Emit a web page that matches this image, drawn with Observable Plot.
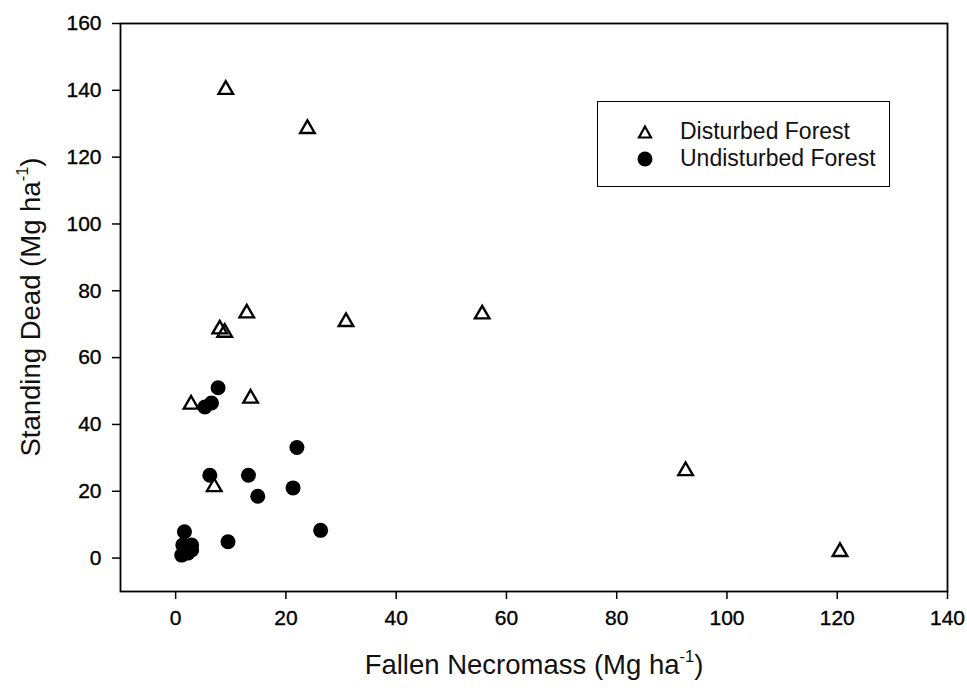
<!DOCTYPE html>
<html>
<head>
<meta charset="utf-8">
<script src="https://cdn.jsdelivr.net/npm/d3@7"></script>
<script src="https://cdn.jsdelivr.net/npm/@observablehq/plot@0.6"></script>
<style>
  html, body { margin: 0; padding: 0; background: #fff; }
  #wrap { position: relative; width: 967px; height: 691px; font-family: "Liberation Sans", Arial, sans-serif; }
  #legend { position: absolute; left: 597px; top: 101px; width: 293px; height: 86px; border: 1.5px solid #000; box-sizing: border-box; background: #fff; font-size: 23px; color: #111; }
  #legend .row { position: absolute; left: 39px; display: flex; align-items: center; }
  #legend .row span { margin-left: 27px; }
</style>
</head>
<body>
<div id="wrap"></div>
<script>
// Disturbed Forest (triangles)
const disturbedX = [9.1, 23.9, 12.9, 8.0, 8.9, 30.9, 55.6, 2.8, 13.6, 7.0, 92.5, 120.5];
const disturbedY = [140.2, 128.5, 73.3, 68.5, 67.5, 70.7, 73.0, 46.0, 47.8, 21.3, 26.1, 1.9];
// Undisturbed Forest (filled circles)
const undisturbedX = [7.7, 6.5, 5.3, 22.0, 6.2, 13.2, 14.9, 21.3, 26.3, 9.5, 1.6, 1.1, 2.9, 1.3, 2.9, 2.2];
const undisturbedY = [51.0, 46.4, 45.2, 33.1, 24.8, 24.8, 18.5, 21.0, 8.3, 4.9, 7.9, 0.9, 2.4, 3.9, 3.9, 1.5];
const xTicks = [0, 20, 40, 60, 80, 100, 120, 140];
const yTicks = [0, 20, 40, 60, 80, 100, 120, 140, 160];
const seriesNames = ["Disturbed Forest", "Undisturbed Forest"];

const disturbed = disturbedX.map((x, i) => ({x, y: disturbedY[i]}));
const undisturbed = undisturbedX.map((x, i) => ({x, y: undisturbedY[i]}));

const chart = Plot.plot({
  width: 967,
  height: 691,
  marginLeft: 120,
  marginRight: 20,
  marginTop: 23,
  marginBottom: 100,
  style: {fontFamily: "'Liberation Sans', Arial, sans-serif", fontSize: "21px", color: "#000", background: "#fff"},
  x: {domain: [-10, 140], ticks: xTicks, label: null},
  y: {domain: [-10, 160], ticks: yTicks, label: null},
  marks: [
    Plot.frame({stroke: "#000", strokeWidth: 1.8}),
    Plot.axisX({ticks: xTicks, tickSize: 8, tickPadding: 11, label: null, stroke: "#000", strokeWidth: 1.5, fontSize: 21, fill: "#000"}),
    Plot.axisY({ticks: yTicks, tickSize: 8, tickPadding: 11, label: null, stroke: "#000", strokeWidth: 1.5, fontSize: 21, fill: "#000"}),
    Plot.dot(undisturbed, {x: "x", y: "y", r: 7.5, fill: "#000", stroke: "none"}),
    Plot.dot(disturbed, {x: "x", y: "y", symbol: "triangle", r: 5.4, fill: "none", stroke: "#000", strokeWidth: 2.4})
  ]
});

const svg = d3.select(chart);
svg.selectAll('g[aria-label="x-axis tick label"] text, g[aria-label="y-axis tick label"] text')
  .attr("font-size", 21).style("font-size", "21px").style("stroke", "#000").style("stroke-width", "0.35px");

// X axis title with superscript
const xt = svg.append("text")
  .attr("x", 534).attr("y", 674)
  .attr("text-anchor", "middle")
  .attr("font-size", 27.5)
  .attr("font-family", "'Liberation Sans', Arial, sans-serif")
  .attr("fill", "#111");
xt.append("tspan").text("Fallen Necromass (Mg ha");
xt.append("tspan").attr("font-size", 16.5).attr("dy", -12).text("-1");
xt.append("tspan").attr("dy", 12).text(")");

// Y axis title with superscript
const yt = svg.append("text")
  .attr("transform", "translate(40,307) rotate(-90)")
  .attr("text-anchor", "middle")
  .attr("font-size", 27.5)
  .attr("font-family", "'Liberation Sans', Arial, sans-serif")
  .attr("fill", "#111");
yt.append("tspan").text("Standing Dead (Mg ha");
yt.append("tspan").attr("font-size", 16.5).attr("dy", -12).text("-1");
yt.append("tspan").attr("dy", 12).text(")");

const wrap = document.getElementById("wrap");
wrap.appendChild(chart);

// Legend
const legend = document.createElement("div");
legend.id = "legend";
const symbols = [
  '<svg width="16" height="16"><path d="M8,2.5 L14,13.5 L2,13.5 Z" fill="none" stroke="#000" stroke-width="2.2"/></svg>',
  '<svg width="16" height="16"><circle cx="8" cy="8" r="7.5" fill="#000"/></svg>'
];
seriesNames.forEach((name, i) => {
  const row = document.createElement("div");
  row.className = "row";
  row.style.top = (i === 0 ? 16 : 43) + "px";
  row.innerHTML = symbols[i] + "<span>" + name + "</span>";
  legend.appendChild(row);
});
wrap.appendChild(legend);
</script>
</body>
</html>
